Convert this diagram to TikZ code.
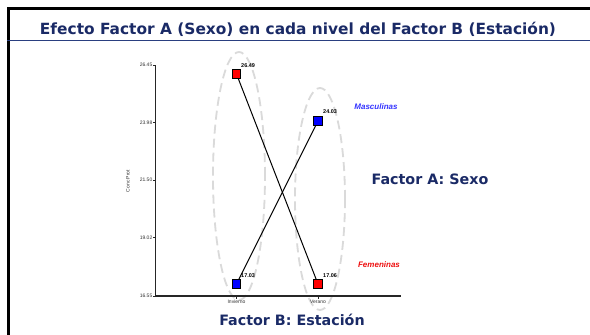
\documentclass[tikz,border=0pt]{standalone}
\usepackage{fontspec}
\setmainfont{DejaVu Sans}
\newfontfamily\arialf{Liberation Sans}
\usetikzlibrary{shapes.geometric}
\definecolor{navy}{HTML}{1A2A66}
\definecolor{tline}{HTML}{2A3F80}
\definecolor{dgray}{HTML}{DADADA}
\definecolor{mblue}{HTML}{3333FF}
\definecolor{fred}{HTML}{EE1111}
\tikzset{
  heading/.style={font=\bfseries\fontsize{15.4}{17}\selectfont, text=navy, inner sep=0pt},
  subhead/.style={font=\bfseries\fontsize{14.3}{16}\selectfont, text=navy, inner sep=0pt},
  axlab/.style={font=\arialf\fontsize{5}{6}\selectfont, text=black!80, inner sep=0pt},
  vallab/.style={font=\arialf\bfseries\fontsize{5.5}{6}\selectfont, inner sep=0pt},
  grp/.style={font=\arialf\bfseries\itshape\fontsize{8}{9}\selectfont, inner sep=0pt},
  mk/.style={draw=black, line width=0.8pt, minimum size=8.5pt, inner sep=0pt},
  grpell/.style={draw=dgray, line width=1.8pt, dash pattern=on 9pt off 5pt},
  dataline/.style={black, line width=1pt}
}
\begin{document}
\begin{tikzpicture}[x=1pt,y=-1pt]
\useasboundingbox (0,0) rectangle (590,335);
\fill[white] (0,0) rectangle (590,335);
% frame
\draw[black, line width=3pt] (8.5,335) -- (8.5,8) -- (590,8);
\draw[tline, line width=1.4pt] (7,40.5) -- (590,40.5);
\node[heading] (title) at (298,29) {Efecto Factor A (Sexo) en cada nivel del Factor B (Estación)};
% ellipses
\node[grpell, ellipse, minimum width=52pt, minimum height=248pt] (e1) at (239,176) {};
\node[grpell, ellipse, minimum width=50pt, minimum height=222pt] (e2) at (320,199) {};
% axes
\coordinate (ytop) at (155.5,65);
\coordinate (orig) at (155.5,296);
\coordinate (xend) at (401,296);
\draw[black!85, line width=1.1pt] (ytop) -- (orig) -- (xend);
\foreach \yy/\lab in {65/26.45,122.5/23.98,180/21.50,237.5/19.02,296/16.55}{
  \draw[black!85, line width=0.7pt] (153,\yy) -- (155.5,\yy);
  \node[axlab, anchor=east] at (152.5,\yy) {\lab};
}
\foreach \xx in {236.5,318}{
  \draw[black!85, line width=0.7pt] (\xx,296) -- (\xx,298.5);
}
\node[axlab] (inv) at (236.5,302) {Invierno};
\node[axlab] (ver) at (318,302) {Verano};
\node[axlab, rotate=90] (ylab) at (128,181) {Conc Prot};
% data
\node[mk, fill=red] (f1) at (236.5,74) {};
\node[mk, fill=red] (f2) at (318,284) {};
\node[mk, fill=blue] (m1) at (236.5,284) {};
\node[mk, fill=blue] (m2) at (318,121) {};
\draw[dataline] (f1) -- (f2);
\draw[dataline] (m1) -- (m2);
\node[vallab, anchor=west] (lf1) at (241,66) {26.49};
\node[vallab, anchor=west] (lm2) at (323,112) {24.03};
\node[vallab, anchor=west] (lm1) at (241,276) {17.03};
\node[vallab, anchor=west] (lf2) at (323,276) {17.06};
\node[grp, text=mblue] (masc) at (376,107) {Masculinas};
\node[grp, text=fred] (fem) at (379,265) {Femeninas};
\node[subhead] (fa) at (430,179) {Factor A: Sexo};
\node[subhead] (fb) at (292,320) {Factor B: Estación};
\end{tikzpicture}
\end{document}
